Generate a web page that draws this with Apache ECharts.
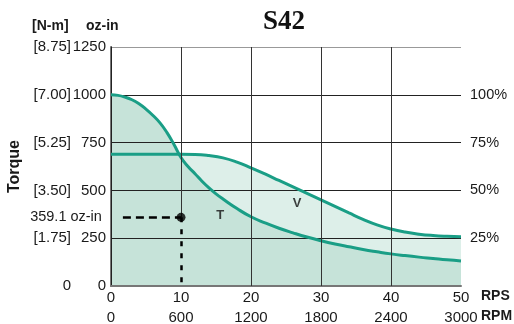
<!DOCTYPE html>
<html>
<head>
<meta charset="utf-8">
<script src="https://cdn.jsdelivr.net/npm/echarts@6/dist/echarts.min.js"></script>
<style>
html, body { margin: 0; padding: 0; background: #fff; }
#chart { width: 514px; height: 324px; }
</style>
</head>
<body>
<div id="chart"></div>
<script>
// curve T (steep one) - speed in RPS, torque in oz-in
const tRps = [0, 1, 2, 3, 4, 5, 6, 7, 8, 9, 10, 11, 12, 13, 14, 15, 16, 18, 20, 22, 24, 26, 28, 30, 32, 34, 36, 38, 40, 42, 44, 46, 48, 50];
const tTorque = [1000, 997, 988, 974, 953, 925, 892, 853, 802, 740, 672, 625, 587, 548, 513, 482, 455, 405, 362, 330, 302, 278, 256, 237, 220, 205, 191, 179, 168, 159, 151, 144, 137, 131];

// curve V (flat then falling)
const vRps = [0, 10, 12, 14, 16, 18, 20, 22, 24, 26, 28, 30, 32, 34, 36, 38, 40, 42, 44, 46, 48, 50];
const vTorque = [689, 689, 688, 682, 670, 648, 618, 586, 552, 518, 484, 450, 416, 382, 349, 320, 298, 282, 271, 264, 260, 258];

// left / right axis tick labels
const nmLabels = ['0', '[1.75]', '[3.50]', '[5.25]', '[7.00]', '[8.75]'];
const ozLabels = ['0', '250', '500', '750', '1000', '1250'];
const pctLabels = ['', '25%', '50%', '75%', '100%', ''];

// vertical grid lines (RPS)
const gridRps = [10, 20, 30, 40];

// marked operating point
const refRps = 10;
const refTorque = 359.1;
const dashStartRps = 1.7;

// curve name labels [rps, torque, text]
const curveLabels = [[15.6, 371, 'T'], [26.6, 434, 'V']];

const teal = '#1a9e86';
const darkFill = '#c6e3d9';
const lightFill = '#ddefe9';
const txt = '#1a1a1a';

const pairs = (xs, ys) => xs.map((x, i) => [x, ys[i]]);

var myChart = echarts.init(document.getElementById('chart'));

var option = {
    animation: false,
    title: {
        text: 'S42',
        left: 258,
        top: 4,
        textStyle: { fontFamily: 'Liberation Serif', fontWeight: 'bold', fontSize: 27, color: '#111' }
    },
    grid: { left: 111, right: 53, top: 47, bottom: 38, containLabel: false, outerBoundsMode: 'none' },
    graphic: [
        { type: 'text', left: 32, top: 19, style: { text: '[N-m]', font: 'bold 14px "Liberation Sans"', fill: txt } },
        { type: 'text', left: 86, top: 19, style: { text: 'oz-in', font: 'bold 14px "Liberation Sans"', fill: txt } },
        { type: 'text', left: 481, top: 289, style: { text: 'RPS', font: 'bold 14px "Liberation Sans"', fill: txt } },
        { type: 'text', left: 481, top: 309, style: { text: 'RPM', font: 'bold 14px "Liberation Sans"', fill: txt } }
    ],
    xAxis: [
        {
            type: 'value', min: 0, max: 50, interval: 10, position: 'bottom', z: 3,
            axisLine: { show: true, lineStyle: { color: '#777', width: 2 } },
            axisTick: { show: false },
            splitLine: { show: false },
            axisLabel: { margin: 4, fontFamily: 'Liberation Sans', fontSize: 15, color: txt }
        },
        {
            type: 'value', min: 0, max: 3000, interval: 600, position: 'bottom', offset: 20,
            axisLine: { show: false },
            axisTick: { show: false },
            splitLine: { show: false },
            axisLabel: {
                margin: 4, fontFamily: 'Liberation Sans', fontSize: 15, color: txt,
                formatter: function (v) { return String(v); }
            }
        }
    ],
    yAxis: [
        {
            type: 'value', min: 0, max: 1250, interval: 250, position: 'left', z: 3,
            name: 'Torque', nameLocation: 'middle', nameGap: 86,
            nameTextStyle: { fontFamily: 'Liberation Sans', fontWeight: 'bold', fontSize: 16, color: txt },
            axisLine: { show: true, lineStyle: { color: '#777', width: 2 } },
            axisTick: { show: false },
            splitLine: { show: true, lineStyle: { color: ['#777', '#222', '#222', '#222', '#222', '#999'], width: 1 } },
            axisLabel: {
                margin: 5,
                formatter: function (v) {
                    var i = Math.round(v / 250);
                    return '{a|' + nmLabels[i] + '}{b|' + ozLabels[i] + '}';
                },
                rich: {
                    a: { width: 38, align: 'right', fontFamily: 'Liberation Sans', fontSize: 15, color: txt },
                    b: { width: 35, align: 'right', fontFamily: 'Liberation Sans', fontSize: 15, color: txt }
                }
            }
        },
        {
            type: 'value', min: 0, max: 1250, interval: 250, position: 'right', z: 3,
            axisLine: { show: true, lineStyle: { color: '#222', width: 1 } },
            axisTick: { show: false },
            splitLine: { show: false },
            axisLabel: {
                margin: 9, fontFamily: 'Liberation Sans', fontSize: 14.5, color: txt,
                formatter: function (v) { return pctLabels[Math.round(v / 250)]; }
            }
        }
    ],
    series: [
        {
            name: 'V fill', type: 'line', z: 1, smooth: 0.5, showSymbol: false,
            data: pairs(vRps, vTorque),
            lineStyle: { width: 0, opacity: 0 },
            areaStyle: { color: lightFill, opacity: 1 }
        },
        {
            name: 'T fill', type: 'line', z: 2, smooth: 0.5, showSymbol: false,
            data: pairs(tRps, tTorque),
            lineStyle: { width: 0, opacity: 0 },
            areaStyle: { color: darkFill, opacity: 1 }
        },
        {
            name: 'grid', type: 'line', z: 3, data: [],
            markLine: {
                silent: true, symbol: 'none', animation: false,
                label: { show: false },
                lineStyle: { color: '#333', width: 1, type: 'solid' },
                data: gridRps.map(function (x) {
                    return [{ coord: [x, x === refRps ? refTorque : 0] }, { coord: [x, 1250] }];
                })
            }
        },
        {
            name: 'V', type: 'line', z: 4, smooth: 0.5, showSymbol: false,
            data: pairs(vRps, vTorque),
            lineStyle: { color: teal, width: 3 }
        },
        {
            name: 'T', type: 'line', z: 4, smooth: 0.5, showSymbol: false,
            data: pairs(tRps, tTorque),
            lineStyle: { color: teal, width: 3 }
        },
        {
            name: 'point', type: 'scatter', z: 6,
            data: [[refRps, refTorque]],
            symbolSize: 9,
            itemStyle: { color: '#000' },
            markLine: {
                silent: true, symbol: 'none', animation: false,
                data: [
                    [
                        {
                            coord: [dashStartRps, refTorque],
                            lineStyle: { color: '#000', width: 2.5, type: [8, 5] },
                            label: {
                                show: true, position: 'start', distance: 21, formatter: '359.1 oz-in',
                                fontFamily: 'Liberation Sans', fontSize: 14.5, color: txt
                            }
                        },
                        { coord: [refRps, refTorque] }
                    ],
                    [
                        {
                            coord: [refRps, refTorque],
                            lineStyle: { color: '#000', width: 2.5, type: [5, 7] },
                            label: { show: false }
                        },
                        { coord: [refRps, 0] }
                    ]
                ]
            }
        },
        {
            name: 'labels', type: 'scatter', z: 6,
            data: curveLabels,
            symbolSize: 0,
            label: {
                show: true, position: 'inside',
                formatter: function (p) { return p.value[2]; },
                fontFamily: 'Liberation Sans', fontWeight: 'bold', fontSize: 13, color: '#111'
            }
        }
    ]
};

myChart.setOption(option);
</script>
</body>
</html>
